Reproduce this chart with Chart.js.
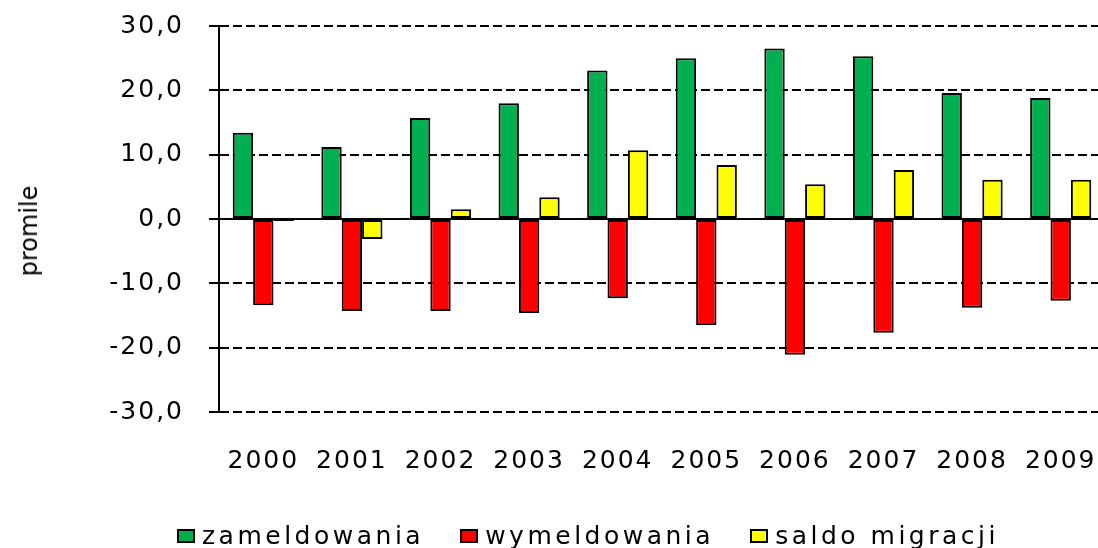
<!DOCTYPE html>
<html>
<head>
<meta charset="utf-8">
<script src="https://cdn.jsdelivr.net/npm/chart.js@4.4.1/dist/chart.umd.min.js"></script>
<style>
  body { margin: 0; overflow: hidden; background: #fff; font-family: "DejaVu Sans", sans-serif; }
  #wrap { position: relative; width: 1105px; height: 548px; }
  #yTitle { position: absolute; left: 29px; top: 231px; transform: translate(-50%, -50%) rotate(-90deg); font-size: 24px; white-space: nowrap; color: #000; }
  #legend { position: absolute; left: 177px; top: 521px; display: flex; align-items: center; font-size: 25px; letter-spacing: 3.5px; color: #000; }
  .item { display: flex; align-items: center; margin-right: 36px; }
  .box { width: 14px; height: 10px; border: 2px solid #000; margin-right: 7px; }
</style>
</head>
<body>
<div id="wrap">
  <canvas id="barChart"></canvas>
  <div id="yTitle">promile</div>
  <div id="legend"></div>
</div>
<script>
// dane
var years = ['2000', '2001', '2002', '2003', '2004', '2005', '2006', '2007', '2008', '2009'];
var zameldowania = [13.4, 11.2, 15.7, 18.0, 23.1, 25.0, 26.5, 25.3, 19.6, 18.8];
var wymeldowania = [-13.4, -14.3, -14.3, -14.6, -12.3, -16.5, -21.1, -17.7, -13.8, -12.7];
var saldoMigracji = [-0.3, -3.1, 1.5, 3.4, 10.7, 8.4, 5.4, 7.6, 6.1, 6.1];
var yMin = -30, yMax = 30, yStep = 10;

var tickFont = { family: '"DejaVu Sans", sans-serif', size: 25 };

// slightly spaced letters, like the original
var spacing = {
    id: 'spacing',
    beforeLayout: function (chart) { chart.ctx.letterSpacing = '2px'; },
    beforeDraw: function (chart) { chart.ctx.letterSpacing = '2px'; }
};

var ctx = document.getElementById('barChart').getContext('2d');
var barChart = new Chart(ctx, {
    type: 'bar',
    data: {
        labels: years,
        datasets: [{
            label: 'zameldowania',
            data: zameldowania,
            backgroundColor: '#00B050'
        },
        {
            label: 'wymeldowania',
            data: wymeldowania,
            backgroundColor: '#FF0000'
        },
        {
            label: 'saldo migracji',
            data: saldoMigracji,
            backgroundColor: '#FFFF00'
        }]
    },
    options: {
        responsive: true,
        maintainAspectRatio: false,
        animation: false,
        layout: { padding: { top: 26, bottom: 76, left: 0, right: 0 } },
        datasets: {
            bar: {
                borderColor: '#000',
                borderWidth: 2,
                borderSkipped: false,
                categoryPercentage: 0.69,
                barPercentage: 1
            }
        },
        plugins: {
            legend: { display: false },
            tooltip: { enabled: false }
        },
        scales: {
            x: {
                grid: { display: false },
                border: { display: false },
                ticks: { color: '#000', font: tickFont, padding: 26, maxRotation: 0, autoSkip: false },
                afterFit: function (scale) {
                    scale.height = 60;
                    scale.paddingLeft = 0;
                    scale.paddingRight = 0;
                }
            },
            y: {
                min: yMin,
                max: yMax,
                grid: {
                    color: '#000',
                    lineWidth: 2,
                    drawTicks: true,
                    tickLength: 10,
                    tickColor: '#000',
                    tickWidth: 2
                },
                border: {
                    display: true,
                    color: '#000',
                    width: 2,
                    dash: function (c) { return c.tick && c.tick.value === 0 ? [] : [9, 4]; }
                },
                ticks: {
                    stepSize: yStep,
                    color: '#000',
                    font: tickFont,
                    padding: 25,
                    callback: function (v) { return v.toFixed(1).replace('.', ','); }
                },
                afterFit: function (scale) {
                    scale.width = 219;
                    scale.paddingTop = 0;
                    scale.paddingBottom = 0;
                }
            }
        }
    },
    plugins: [spacing]
});

// legenda
var legend = document.getElementById('legend');
barChart.data.datasets.forEach(function (ds) {
    var item = document.createElement('div');
    item.className = 'item';
    var box = document.createElement('span');
    box.className = 'box';
    box.style.background = ds.backgroundColor;
    var txt = document.createElement('span');
    txt.textContent = ds.label;
    item.appendChild(box);
    item.appendChild(txt);
    legend.appendChild(item);
});
</script>
</body>
</html>
